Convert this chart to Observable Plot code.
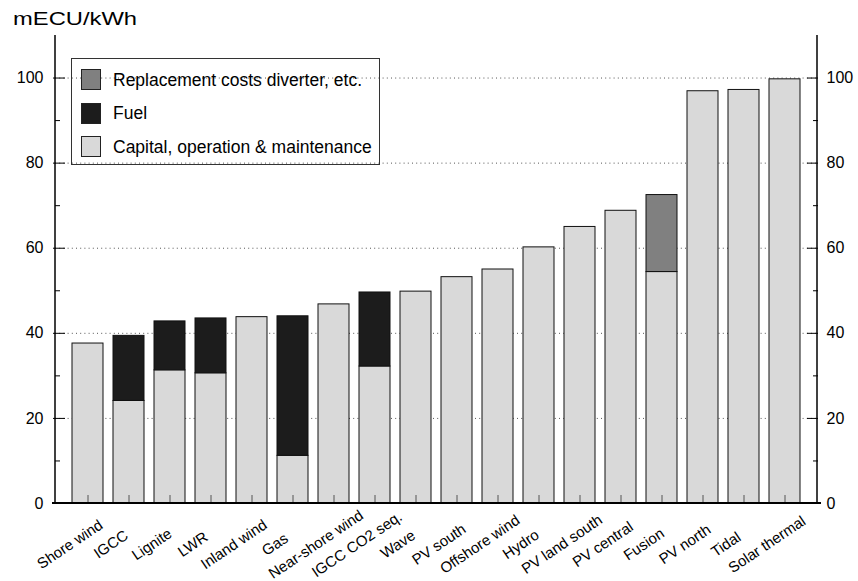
<!DOCTYPE html>
<html>
<head>
<meta charset="utf-8">
<script src="https://cdn.jsdelivr.net/npm/d3@7"></script>
<script src="https://cdn.jsdelivr.net/npm/@observablehq/plot@0.6"></script>
<style>
  body { margin: 0; background: #fff; font-family: "Liberation Sans", Arial, Helvetica, sans-serif; }
  #wrap { position: relative; width: 858px; height: 581px; overflow: hidden; }
  #title { position: absolute; left: 13px; top: 9px; font-size: 19px; line-height: 1; color: #000;
           transform: scaleX(1.25); transform-origin: left center; white-space: nowrap; }
  #chart { position: absolute; left: 0; top: 28px; }
  #legend { position: absolute; left: 71px; top: 58px; width: 309px; height: 107px; box-sizing: border-box;
            border: 1px solid #333; background: transparent; }
  .item { position: absolute; left: 9px; height: 21px; }
  .swatch { position: absolute; left: 0; top: 0; width: 20px; height: 21px; box-sizing: border-box; border: 1px solid #222; }
  .label { position: absolute; left: 32px; top: 10.5px; transform: translateY(-50%); white-space: nowrap; font-size: 17.5px; color: #000; }
</style>
</head>
<body>
<div id="wrap">
  <div id="title">mECU/kWh</div>
  <div id="chart"></div>
  <div id="legend"></div>
</div>
<script>
// Generation cost per technology, mECU/kWh, split into cost components
const categories = ["Shore wind", "IGCC", "Lignite", "LWR", "Inland wind", "Gas", "Near-shore wind",
  "IGCC CO2 seq.", "Wave", "PV south", "Offshore wind", "Hydro", "PV land south", "PV central",
  "Fusion", "PV north", "Tidal", "Solar thermal"];
const capital = [37.6, 24.1, 31.3, 30.6, 43.8, 11.2, 46.8, 32.2, 49.8, 53.2, 55.0, 60.2, 65.0, 68.8, 54.4, 96.9, 97.2, 99.7];
const fuel = [0, 15.3, 11.5, 12.9, 0, 32.8, 0, 17.4, 0, 0, 0, 0, 0, 0, 0, 0, 0, 0];
const replacement = [0, 0, 0, 0, 0, 0, 0, 0, 0, 0, 0, 0, 0, 0, 18.1, 0, 0, 0];

// Legend order (top to bottom) and fills
const components = ["Replacement costs diverter, etc.", "Fuel", "Capital, operation & maintenance"];
const fills = ["#808080", "#1c1c1c", "#d9d9d9"];

const majorTicks = [0, 20, 40, 60, 80, 100];
const minorTicks = [10, 30, 50, 70, 90];
const gridTicks = [20, 40, 60, 80, 100];

// Stack from the bottom: capital, then fuel, then replacement costs
const rows = [];
categories.forEach((c, i) => {
  [[components[2], capital[i]], [components[1], fuel[i]], [components[0], replacement[i]]]
    .forEach(([component, value]) => { if (value > 0) rows.push({category: c, component, value}); });
});

// Frame lines: left and right value axes and the baseline
function axisLines(index, scales, values, dimensions) {
  const {y} = scales;
  const {width, marginLeft, marginRight} = dimensions;
  const g = d3.create("svg:g").attr("stroke", "#000").attr("fill", "none");
  const xl = marginLeft, xr = width - marginRight;
  g.append("line").attr("x1", xl).attr("x2", xl).attr("y1", y(0)).attr("y2", y(110)).attr("stroke-width", 1.5);
  g.append("line").attr("x1", xr).attr("x2", xr).attr("y1", y(0)).attr("y2", y(110)).attr("stroke-width", 1.5);
  g.append("line").attr("x1", xl - 3).attr("x2", xr + 4).attr("y1", y(0)).attr("y2", y(0)).attr("stroke-width", 2);
  return g.node();
}

const font = "'Liberation Sans', Arial, Helvetica, sans-serif";
const noText = () => "";

const chart = Plot.plot({
  width: 858,
  height: 553,
  marginLeft: 55,
  marginRight: 41,
  marginTop: 7,
  marginBottom: 78,
  style: {fontFamily: font, fontSize: "16px", color: "#000", background: "transparent", overflow: "visible"},
  x: {type: "band", domain: categories, paddingInner: 0.235, paddingOuter: 0.37, align: 0.5, axis: null},
  y: {domain: [0, 110], axis: null},
  color: {domain: components, range: fills},
  marks: [
    Plot.ruleY(gridTicks, {stroke: "#555", strokeWidth: 1, strokeDasharray: "1,3.2"}),
    Plot.barY(rows, {x: "category", y: "value", fill: "component", stroke: "#111", strokeWidth: 1}),
    // inward ticks at the bar centres
    Plot.axisX({tickSize: 8, dy: -8, tickFormat: noText, stroke: "#555", label: null}),
    // slanted category names under the bars
    Plot.text(categories, {x: d => d, frameAnchor: "bottom", rotate: -34, textAnchor: "middle",
      lineAnchor: "middle", dx: -18, dy: 41, fontSize: 15, fill: "#000"}),
    // inward major and minor ticks on both value axes
    Plot.axisY(majorTicks, {anchor: "left", tickSize: 12, dx: 10, tickFormat: noText, label: null}),
    Plot.axisY(minorTicks, {anchor: "left", tickSize: 5, dx: 5, tickFormat: noText, label: null}),
    Plot.axisY(majorTicks, {anchor: "right", tickSize: 11, dx: -11, tickFormat: noText, label: null}),
    Plot.axisY(minorTicks, {anchor: "right", tickSize: 5, dx: -5, tickFormat: noText, label: null}),
    Plot.axisY(majorTicks, {anchor: "left", tickSize: 0, tickPadding: 12, fontSize: 16, label: null}),
    Plot.axisY(majorTicks, {anchor: "right", tickSize: 0, tickPadding: 9, fontSize: 16, label: null}),
    axisLines
  ]
});
document.getElementById("chart").appendChild(chart);

// Legend drawn from the same component names and fills
const legend = document.getElementById("legend");
components.forEach((name, i) => {
  const item = document.createElement("div");
  item.className = "item";
  item.style.top = (10 + i * 33.5) + "px";
  const sw = document.createElement("div");
  sw.className = "swatch";
  sw.style.background = fills[i];
  const lab = document.createElement("div");
  lab.className = "label";
  lab.textContent = name;
  item.appendChild(sw);
  item.appendChild(lab);
  legend.appendChild(item);
});
</script>
</body>
</html>
